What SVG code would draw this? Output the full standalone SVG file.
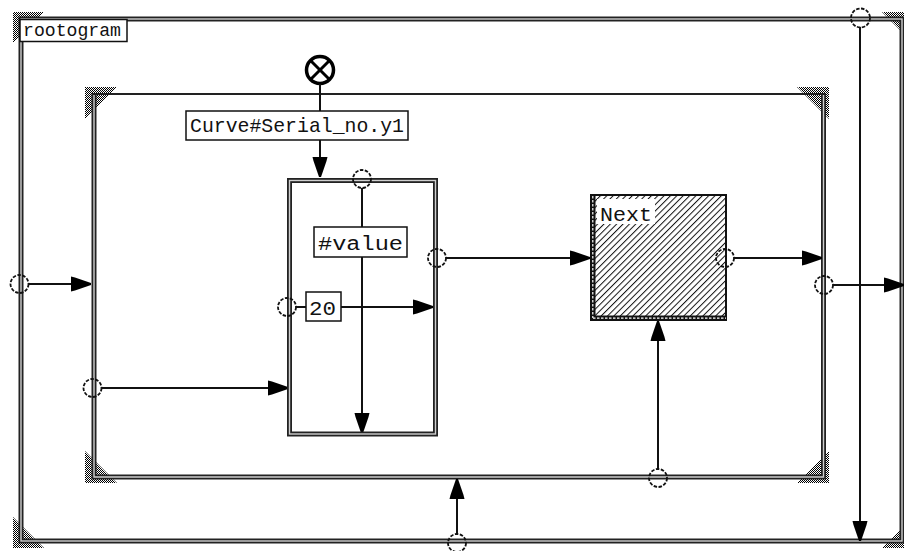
<svg xmlns="http://www.w3.org/2000/svg" width="904" height="551" viewBox="0 0 904 551">
<style>
.dbl{fill:none;stroke:#222;stroke-width:5}
.dblin{fill:none;stroke:#cfcfcf;stroke-width:1.4}
.conn{fill:none;stroke:#111;stroke-width:2}
.port{fill:none;stroke:#111;stroke-width:1.8;stroke-dasharray:3.5 1.5}
.lbl{fill:#fff;stroke:#111;stroke-width:1.5}
.txt{font-family:"Liberation Mono","DejaVu Sans Mono",monospace;fill:#111}
.hat{fill:url(#dith)}
</style>
<defs>
<pattern id="dith" width="2" height="2" patternUnits="userSpaceOnUse">
<rect x="0" y="0" width="1" height="1" fill="#000"/>
<rect x="1" y="1" width="1" height="1" fill="#000"/>
</pattern>
<pattern id="diag" width="4.5" height="4.5" patternUnits="userSpaceOnUse" patternTransform="rotate(45)">
<rect width="4.5" height="4.5" fill="#fff"/>
<line x1="0.5" y1="0" x2="0.5" y2="4.5" stroke="#111" stroke-width="1"/>
</pattern>
<marker id="ah" markerUnits="userSpaceOnUse" markerWidth="20" markerHeight="16" viewBox="0 0 20 16" refX="20" refY="8" orient="auto">
<path d="M0,0.5 L4,1.5 L20,7 L20,9 L4,14.5 L0,15.5 Z" fill="#000"/>
</marker>
</defs>
<rect width="904" height="551" fill="#fff"/>

<g id="rootogram">
<polygon class="hat" points="13,12 44,12 13,43"/>
<polygon class="hat" points="13,548 44,548 13,517"/>
<polygon class="hat" points="882,12 904,12 904,34"/>
<polygon class="hat" points="882,548 904,548 904,526"/>
<rect class="dbl" x="21" y="19" width="881" height="522"/>
<rect class="dblin" x="21" y="19" width="881" height="522"/>
<rect class="lbl" x="20" y="19.5" width="107" height="22"/>
<text class="txt" x="23" y="36" font-size="18" textLength="98" lengthAdjust="spacingAndGlyphs">rootogram</text>
</g>

<g id="inner-frame">
<polygon class="hat" points="85,87 117,87 85,119"/>
<polygon class="hat" points="85,483 117,483 85,451"/>
<polygon class="hat" points="829,87 797,87 829,119"/>
<polygon class="hat" points="829,483 797,483 829,451"/>
<path class="dbl" d="M94,94 V477 H823.5 V94"/>
<path class="dblin" d="M94,94 V477 H823.5 V94"/>
<line x1="92" y1="94" x2="826" y2="94" stroke="#222" stroke-width="2.2"/>
</g>

<g id="curve-selector">
<circle cx="320" cy="70" r="13.5" fill="#fff" stroke="#000" stroke-width="3.5"/>
<line x1="310.5" y1="60.5" x2="329.5" y2="79.5" stroke="#000" stroke-width="3"/>
<line x1="329.5" y1="60.5" x2="310.5" y2="79.5" stroke="#000" stroke-width="3"/>
</g>

<g id="connectors">
<line class="conn" x1="320" y1="84" x2="320" y2="111"/>
<line class="conn" x1="320" y1="140" x2="320" y2="177" marker-end="url(#ah)"/>
<line class="conn" x1="29" y1="284" x2="91" y2="284" marker-end="url(#ah)"/>
<line class="conn" x1="102" y1="388" x2="288" y2="388" marker-end="url(#ah)"/>
<line class="conn" x1="362" y1="188" x2="362" y2="227"/>
<line class="conn" x1="362" y1="257" x2="362" y2="433" marker-end="url(#ah)"/>
<line class="conn" x1="296" y1="307" x2="306" y2="307"/>
<line class="conn" x1="341" y1="307" x2="433" y2="307" marker-end="url(#ah)"/>
<line class="conn" x1="446" y1="258" x2="590" y2="258" marker-end="url(#ah)"/>
<line class="conn" x1="734" y1="258" x2="822" y2="258" marker-end="url(#ah)"/>
<line class="conn" x1="658" y1="469" x2="658" y2="321" marker-end="url(#ah)"/>
<line class="conn" x1="833" y1="285" x2="904" y2="285" marker-end="url(#ah)"/>
<line class="conn" x1="860" y1="27" x2="860" y2="541" marker-end="url(#ah)"/>
<line class="conn" x1="457" y1="534" x2="457" y2="479" marker-end="url(#ah)"/>
</g>

<g id="curve-label">
<rect class="lbl" x="186" y="111" width="222" height="29"/>
<text class="txt" x="190" y="132" font-size="21" textLength="214" lengthAdjust="spacingAndGlyphs">Curve#Serial_no.y1</text>
</g>

<g id="value-box">
<rect class="dbl" x="289.5" y="180.5" width="146" height="253.5"/>
<rect class="dblin" x="289.5" y="180.5" width="146" height="253.5"/>
</g>

<g id="value-label">
<rect class="lbl" x="314" y="227" width="93" height="30"/>
<text class="txt" x="318" y="250" font-size="20" textLength="85" lengthAdjust="spacingAndGlyphs">#value</text>
</g>

<g id="const-20">
<rect class="lbl" x="306" y="292" width="35" height="29"/>
<text class="txt" x="309" y="315" font-size="20" textLength="27" lengthAdjust="spacingAndGlyphs">20</text>
</g>

<g id="next">
<rect x="591" y="195" width="135" height="125" fill="url(#diag)" stroke="#111" stroke-width="2"/>
<rect x="590" y="194" width="5.5" height="127" fill="#111"/>
<rect x="590" y="315.5" width="137" height="5.5" fill="#111"/>
<line x1="592.8" y1="196" x2="592.8" y2="318" stroke="#fff" stroke-width="1.2" stroke-dasharray="2.5 1.5"/>
<line x1="593" y1="318.2" x2="726" y2="318.2" stroke="#fff" stroke-width="1.2" stroke-dasharray="2.5 1.5"/>
<rect x="597" y="199" width="58" height="25" fill="#fff"/>
<text class="txt" x="600" y="221" font-size="20" textLength="52" lengthAdjust="spacingAndGlyphs">Next</text>
</g>

<g id="ports">
<circle class="port" cx="19.5" cy="284" r="9"/>
<circle class="port" cx="92.5" cy="388" r="9"/>
<circle class="port" cx="362" cy="179" r="9"/>
<circle class="port" cx="287" cy="307" r="9"/>
<circle class="port" cx="437" cy="258" r="9"/>
<circle class="port" cx="725" cy="258" r="9"/>
<circle class="port" cx="824" cy="285" r="9"/>
<circle class="port" cx="658" cy="478" r="9"/>
<circle class="port" cx="860.5" cy="18" r="9.5"/>
<circle class="port" cx="457" cy="543" r="9"/>
</g>
</svg>
